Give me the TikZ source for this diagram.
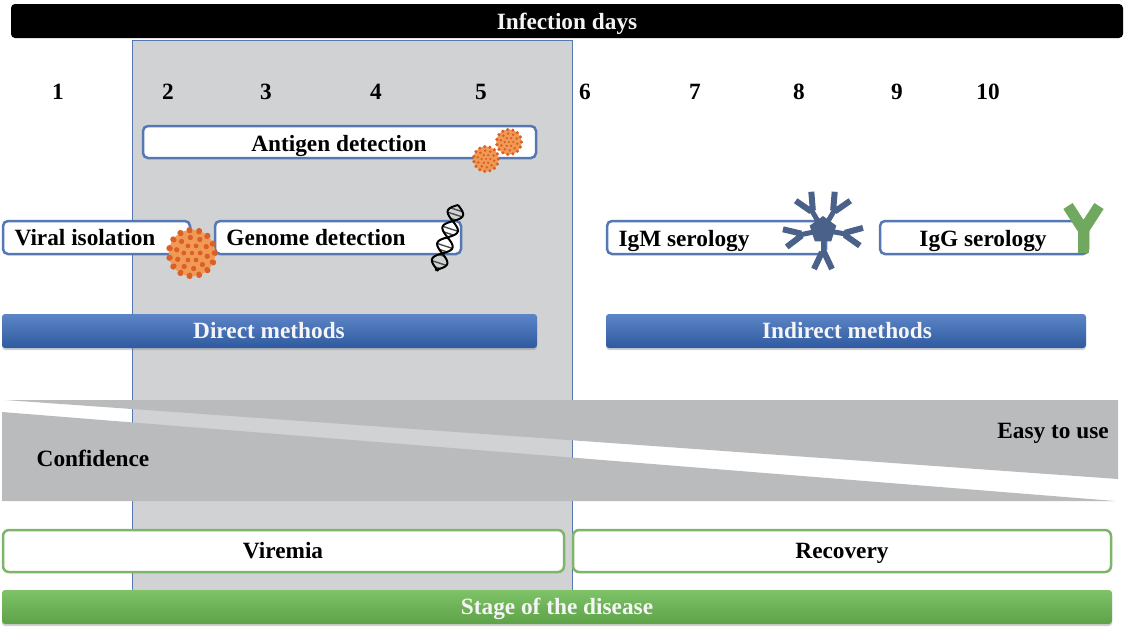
\documentclass[tikz,border=0pt]{standalone}
\usepackage{fontspec}
\setmainfont{Liberation Serif}
\usetikzlibrary{shadows}
\definecolor{panelgray}{HTML}{D1D2D3}
\definecolor{edgeblue}{HTML}{5578B4}
\definecolor{barblue}{HTML}{3F70BC}
\definecolor{barbluedark}{HTML}{2F5AA0}
\definecolor{bargreen}{HTML}{69B84F}
\definecolor{edgegreen}{HTML}{7FB56A}
\definecolor{wedgegray}{HTML}{B9BBBC}
\definecolor{virusorange}{HTML}{F09A55}
\definecolor{virusdot}{HTML}{DA5F28}
\definecolor{abblue}{HTML}{4A628A}
\definecolor{iggreen}{HTML}{6FA85E}
\tikzset{
  lbl/.style={font=\fontsize{23.3}{26}\selectfont\bfseries,text=black,inner sep=0pt,anchor=base},
  lblw/.style={lbl,text=white!92!gray},
  methodbox/.style={draw=edgeblue,line width=2.5pt,fill=white,rounded corners=5pt},
  stagebox/.style={draw=edgegreen,line width=2.5pt,fill=white,rounded corners=6pt},
  bluebar/.style={rounded corners=3pt,top color=barblue!85!white,bottom color=barbluedark,drop shadow={shadow xshift=0pt,shadow yshift=-2pt,opacity=.35}},
  greenbar/.style={rounded corners=3pt,top color=bargreen!85!white,bottom color=bargreen!88!black,drop shadow={shadow xshift=0pt,shadow yshift=-2pt,opacity=.35}},
  pics/virus/.style={code={
    \foreach \a in {0,24,...,336}{\fill[virusdot] (\a:#1*0.96) circle[radius=#1*0.13];}
    \fill[virusorange] (0,0) circle[radius=#1*0.97];
    \foreach \a in {0,24,...,336}{\fill[virusdot] (\a:#1*0.93) circle[radius=#1*0.11];}
    \foreach \a in {12,48,...,348}{\fill[virusdot] (\a:#1*0.65) circle[radius=#1*0.11];}
    \foreach \a in {0,60,...,300}{\fill[virusdot] (\a:#1*0.34) circle[radius=#1*0.1];}
    \fill[virusdot] (0,0) circle[radius=#1*0.09];
  }},
}
\begin{document}
\begin{tikzpicture}[x=1pt,y=-1pt]
\useasboundingbox (0,0) rectangle (1125,630);
\fill[white] (0,0) rectangle (1125,630);
% grey window
\draw[edgeblue,line width=1pt,fill=panelgray] (132,40) rectangle (572,590);
% title bar
\fill[black,rounded corners=4pt] (11,4) rectangle (1123,38);
\node[lblw] (title) at (567,29) {Infection days};
% days
\foreach \n/\x in {1/58,2/168,3/266,4/376,5/481,6/585,7/695,8/799,9/897,10/988}
  \node[lbl] (day\n) at (\x,99.5) {\n};
% antigen
\draw[methodbox] (143,126) rectangle (536,158);
\node[lbl] (antigen) at (339,151) {Antigen detection};
\pic at (486,159) {virus=13};
\pic at (509,142) {virus=13};
% viral isolation, genome
\draw[methodbox] (3,221) rectangle (190,254);
\node[lbl] (viral) at (85,245) {Viral isolation};
\draw[methodbox] (215,221) rectangle (461,254);
\node[lbl] (genome) at (316,245) {Genome detection};
\pic at (192,253) {virus=24};
% DNA
\begin{scope}[shift={(458,205)},rotate=-108]
  \foreach \t in {5,10,15,25,30,35,43,48,53,61,66}
    \draw[line width=1.4pt,black!70] ({\t},{8*sin(\t*10.6)}) -- ({\t},{-8*sin(\t*10.6)});
  \draw[line width=2pt,black,smooth,domain=0:69,samples=50] plot (\x,{8*sin(\x*10.6)});
  \draw[line width=2pt,black,smooth,domain=0:69,samples=50] plot (\x,{-8*sin(\x*10.6)});
\end{scope}
% serology
\draw[methodbox] (607,221) rectangle (826,254);
\node[lbl] (igm) at (684,246) {IgM serology};
\draw[methodbox] (880,221) rectangle (1088,254);
\node[lbl] (igg) at (983,246) {IgG serology};
% IgM pentamer
\begin{scope}[shift={(823,230)},y=1pt]
  \fill[abblue] (90:14) -- (162:14) -- (234:14) -- (306:14) -- (18:14) -- cycle;
  \foreach \a in {120,60,192,-10,-90}{
    \begin{scope}[rotate=\a]
      \draw[abblue,line width=5pt] (10,0) -- (25,0);
      \draw[abblue,line width=6pt] (22,-1) -- (39,-9) (22,1) -- (39,9);
    \end{scope}
  }
\end{scope}
% IgG
\draw[iggreen,line width=11pt,line join=miter] (1068,206) -- (1083.5,230) -- (1099,206);
\draw[iggreen,line width=11pt] (1083.5,226) -- (1083.5,253);
% method bars
\shade[bluebar] (2,314) rectangle (537,348);
\node[lblw] (direct) at (269,338) {Direct methods};
\shade[bluebar] (606,314) rectangle (1086,348);
\node[lblw] (indirect) at (847,338) {Indirect methods};
% wedges
\fill[wedgegray] (5,400) -- (1118,400) -- (1118,479) -- cycle;
\fill[wedgegray] (2,412) -- (1115,501) -- (2,501) -- cycle;
\node[lbl] (conf) at (93,466) {Confidence};
\node[lbl] (easy) at (1053,438) {Easy to use};
% stages
\draw[stagebox] (3,530) rectangle (564,572);
\node[lbl] (viremia) at (283,558) {Viremia};
\draw[stagebox] (573,530) rectangle (1111,572);
\node[lbl] (recovery) at (842,558) {Recovery};
\shade[greenbar] (2,590) rectangle (1112,624);
\node[lblw] (stage) at (557,614) {Stage of the disease};
\end{tikzpicture}
\end{document}
